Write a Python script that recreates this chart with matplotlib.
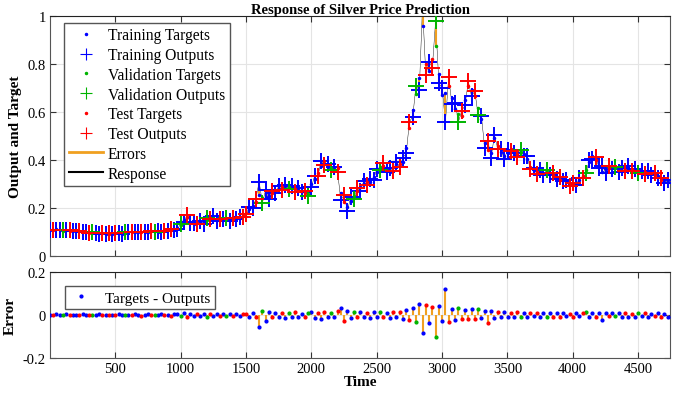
import numpy as np
import matplotlib
matplotlib.use("Agg")
import matplotlib.pyplot as plt
from matplotlib.lines import Line2D

plt.rcParams['font.family'] = ['Liberation Serif', 'DejaVu Serif']

# time steps (every 25th sample of the series)
t = np.arange(1, 4727, 25)

# target values
targets = np.array([
    0.110, 0.108, 0.111, 0.107, 0.106, 0.109, 0.105, 0.104, 0.106, 0.103,
    0.101, 0.100, 0.097, 0.099, 0.096, 0.094, 0.095, 0.092, 0.093, 0.091,
    0.094, 0.096, 0.093, 0.097, 0.099, 0.098, 0.101, 0.100, 0.099, 0.102,
    0.101, 0.104, 0.103, 0.102, 0.105, 0.104, 0.107, 0.108, 0.111, 0.115,
    0.128, 0.150, 0.162, 0.140, 0.133, 0.138, 0.142, 0.140, 0.148, 0.158,
    0.160, 0.152, 0.150, 0.156, 0.154, 0.151, 0.155, 0.160, 0.158, 0.165,
    0.180, 0.195, 0.210, 0.225, 0.255, 0.240, 0.245, 0.250, 0.262, 0.270,
    0.280, 0.286, 0.282, 0.288, 0.284, 0.280, 0.275, 0.272, 0.262, 0.258,
    0.300, 0.320, 0.345, 0.375, 0.395, 0.372, 0.365, 0.362, 0.368, 0.262,
    0.225, 0.205, 0.230, 0.250, 0.272, 0.286, 0.300, 0.307, 0.307, 0.330,
    0.352, 0.372, 0.376, 0.360, 0.352, 0.370, 0.383, 0.383, 0.390, 0.450,
    0.535, 0.610, 0.675, 0.740, 0.960, 0.800, 0.770, 0.820, 0.875, 0.760,
    0.670, 0.680, 0.710, 0.660, 0.612, 0.590, 0.585, 0.650, 0.710, 0.690,
    0.668, 0.615, 0.570, 0.470, 0.440, 0.430, 0.490, 0.460, 0.435, 0.418,
    0.430, 0.446, 0.420, 0.425, 0.432, 0.425, 0.404, 0.370, 0.360, 0.352,
    0.349, 0.345, 0.350, 0.345, 0.338, 0.330, 0.318, 0.322, 0.310, 0.298,
    0.295, 0.305, 0.318, 0.335, 0.360, 0.390, 0.415, 0.400, 0.375, 0.352,
    0.355, 0.368, 0.372, 0.365, 0.360, 0.355, 0.360, 0.365, 0.362, 0.355,
    0.352, 0.349, 0.348, 0.345, 0.342, 0.338, 0.335, 0.316, 0.310, 0.307,
])

# errors (targets - outputs)
errors = np.array([
    0.001, -0.002, 0.002, 0.000, -0.001, 0.002, -0.002, 0.001, 0.000, -0.001,
    0.002, -0.001, 0.001, -0.002, 0.000, 0.002, -0.001, 0.001, -0.002, 0.001,
    -0.001, 0.002, 0.000, -0.002, 0.001, -0.001, 0.002, 0.000, -0.003, 0.001,
    0.002, -0.002, 0.001, -0.001, 0.003, -0.002, 0.001, -0.003, 0.002, 0.003,
    -0.006, 0.008, -0.009, 0.004, -0.005, 0.006, -0.004, 0.005, -0.012, 0.004,
    -0.005, 0.006, -0.004, 0.003, -0.006, 0.005, -0.003, 0.004, -0.005, 0.003,
    0.006, -0.008, 0.010, -0.012, -0.055, 0.018, -0.030, 0.012, -0.010, 0.008,
    -0.012, 0.010, -0.015, 0.009, -0.008, 0.012, -0.010, 0.006, -0.009, 0.007,
    0.012, -0.014, 0.010, -0.020, 0.015, -0.012, 0.008, -0.010, 0.016, 0.030,
    -0.030, 0.018, -0.014, 0.012, -0.010, 0.014, -0.012, 0.010, -0.015, 0.012,
    -0.010, 0.015, -0.012, 0.010, -0.016, 0.014, -0.008, 0.012, -0.020, 0.022,
    -0.025, 0.030, -0.035, 0.050, -0.082, 0.045, -0.040, 0.035, -0.105, 0.040,
    -0.030, 0.122, -0.035, 0.028, -0.025, 0.030, -0.020, 0.022, -0.018, 0.025,
    -0.020, 0.028, -0.015, 0.018, -0.040, 0.020, -0.015, 0.012, -0.010, 0.015,
    -0.012, 0.010, -0.008, 0.012, -0.010, 0.008, -0.012, 0.009, -0.007, 0.010,
    -0.008, 0.009, -0.010, 0.007, -0.009, 0.008, -0.011, 0.010, -0.007, 0.006,
    -0.009, 0.008, -0.006, 0.010, 0.015, -0.008, 0.009, -0.012, 0.007, -0.025,
    0.008, -0.007, 0.009, -0.006, 0.008, -0.010, 0.007, -0.008, 0.006, -0.009,
    0.007, -0.006, 0.008, -0.009, 0.006, -0.007, 0.008, -0.010, 0.006, -0.008,
])

# which subset each sample belongs to: T=training, V=validation, S=test
subset = ("TSTTVTSTTS" "TTSVTTSTST" "STTVTSTTST" "TSVTTSTSTT" "VTSTTSTTVS"
          "TTSTVTSTTS" "STTSTVTTST" "TSTVTSTTSV" "TTSTSTVTST" "STTVSTTSTT"
          "TVSTTSTSTT" "STVTTSTSVT" "TTSTTVSTST" "SVTTSTTSTT" "TSTSVTTSTS"
          "TTVTSTSTTS" "STTSVTTSTT" "TSTVTTSTST" "VTSTTSTSTT")
subset = np.array(list(subset))

outputs = targets - errors

sets = [('T', 'Training', 'blue'),
        ('V', 'Validation', '#00b400'),
        ('S', 'Test', 'red')]
err_color = '#f0a020'

fig = plt.figure(figsize=(6.75, 4.06), dpi=100)
ax1 = fig.add_axes([0.074, 0.367, 0.919, 0.591])
ax2 = fig.add_axes([0.074, 0.116, 0.919, 0.212])

# --- top panel: response ---
ax1.plot(t, outputs, color='black', lw=0.3, zorder=1)
ax1.vlines(t, outputs, targets, color=err_color, lw=1.5, zorder=2)
handles = {}
for key, name, col in sets:
    m = subset == key
    h1, = ax1.plot(t[m], targets[m], '.', color=col, ms=3, zorder=3)
    h2, = ax1.plot(t[m], outputs[m], '+', color=col, ms=11, mew=1.4, zorder=3)
    handles[key] = (h1, h2)

hs = [handles['T'][0], handles['T'][1], handles['V'][0], handles['V'][1],
      handles['S'][0], handles['S'][1]]
leg_err = Line2D([], [], color=err_color, lw=2)
leg_resp = Line2D([], [], color='black', lw=1.5)
leg = ax1.legend(hs + [leg_err, leg_resp],
                 ['Training Targets', 'Training Outputs', 'Validation Targets',
                  'Validation Outputs', 'Test Targets', 'Test Outputs',
                  'Errors', 'Response'],
                 loc='upper left', bbox_to_anchor=(0.018, 0.985), fontsize=11.2,
                 fancybox=False, edgecolor='#555555', framealpha=1,
                 handlelength=2.2, handletextpad=0.3, labelspacing=0.24,
                 borderpad=0.3, borderaxespad=0.2)
for lh in leg.legend_handles[:6]:
    lh.set_markersize(8 if lh.get_marker() == '+' else 3)
    lh.set_markeredgewidth(0.8 if lh.get_marker() == '+' else 1)

ax1.set_xlim(1, 4746)
ax1.set_ylim(0, 1)
ax1.set_xticks(range(500, 4501, 500))
ax1.set_xticklabels([])
ax1.set_yticks([0, 0.2, 0.4, 0.6, 0.8, 1])
ax1.set_yticklabels(['0', '0.2', '0.4', '0.6', '0.8', '1'])
ax1.set_ylabel('Output and Target', fontweight='bold', fontsize=11)
ax1.set_title('Response of Silver Price Prediction', fontweight='bold',
              fontsize=10.5, pad=2)

# --- bottom panel: errors ---
ax2.vlines(t, 0, errors, color=err_color, lw=1.5, zorder=2)
for key, name, col in sets:
    m = subset == key
    ax2.plot(t[m], errors[m], '.', color=col, ms=4, zorder=3,
             label='Targets - Outputs' if key == 'T' else None)
ax2.legend(loc='upper left', bbox_to_anchor=(0.012, 0.92), fontsize=11,
           fancybox=False, edgecolor='#555555', framealpha=1,
           handlelength=1.5, handletextpad=0.8, borderpad=0.3)
ax2.set_xlim(1, 4746)
ax2.set_ylim(-0.2, 0.2)
ax2.set_xticks(range(500, 4501, 500))
ax2.set_yticks([-0.2, 0, 0.2])
ax2.set_yticklabels(['-0.2', '0', '0.2'])
ax2.set_xlabel('Time', fontweight='bold', fontsize=11, labelpad=0)
ax2.set_ylabel('Error', fontweight='bold', fontsize=11)

for ax in (ax1, ax2):
    ax.grid(True, color='#e4e4e4', lw=0.8)
    ax.set_axisbelow(True)
    ax.tick_params(direction='in', top=True, right=True, labelsize=10.5,
                   length=4, width=0.8, color='#333333', pad=3)
    for s in ax.spines.values():
        s.set_color('#555555')
        s.set_linewidth(0.8)
    ax.spines['top'].set_color('#222222')

fig.savefig('out.png', dpi=100)
